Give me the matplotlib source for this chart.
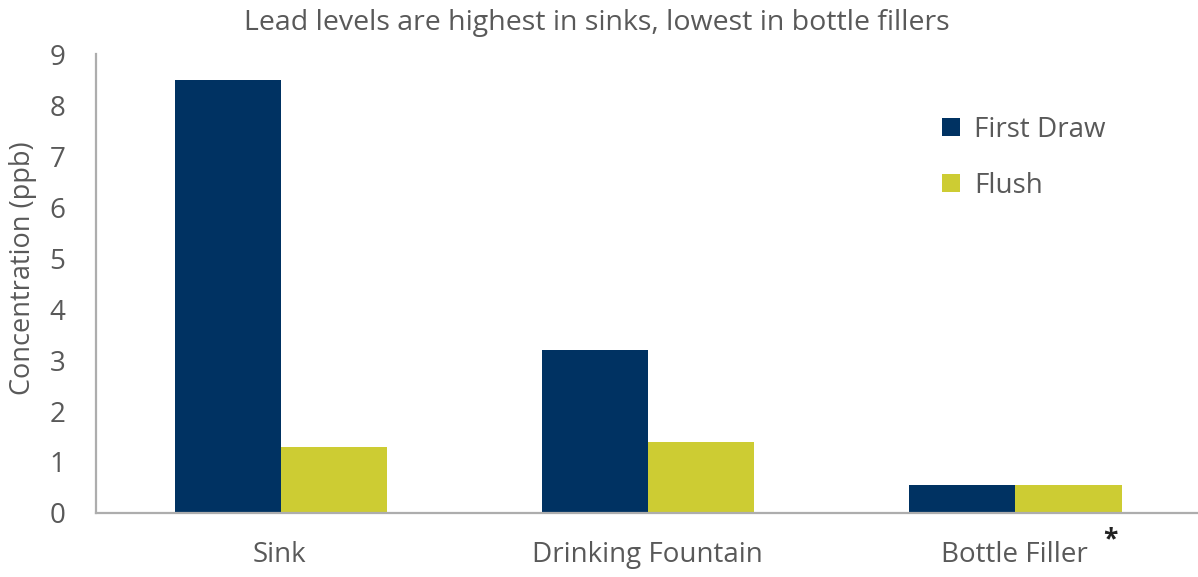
import numpy as np
import matplotlib.pyplot as plt

categories = ["Sink", "Drinking Fountain", "Bottle Filler"]
first_draw = [8.5, 3.2, 0.55]
flush = [1.3, 1.4, 0.55]

navy = "#003262"
yellow = "#CDCC33"
grey_text = "#595959"
axis_grey = "#ADADAD"

plt.rcParams["font.family"] = ["Open Sans", "DejaVu Sans"]

fig = plt.figure(figsize=(11.98, 5.77), dpi=100)
ax = fig.add_axes([0.0801, 0.111, 0.9199, 0.795])

x = np.arange(len(categories))
w = 0.289
ax.bar(x - w / 2 + 0.003, first_draw, w, color=navy, label="First Draw")
ax.bar(x + w / 2 + 0.003, flush, w, color=yellow, label="Flush")

ax.set_xlim(-0.5, 2.5)
ax.set_ylim(0, 9)
ax.set_yticks(range(0, 10))
ax.set_xticks(x)
ax.set_xticklabels(categories)
ax.tick_params(axis="both", length=0, labelsize=20, colors=grey_text)
ax.tick_params(axis="x", pad=20)
ax.tick_params(axis="y", pad=22)

# y label placed by hand so it sits close to the left edge like the original
fig.text(23 / 1198, 1 - 268 / 577, "Concentration (ppb)", rotation=90,
         ha="center", va="center", fontsize=19.5, color=grey_text)

for s in ["top", "right"]:
    ax.spines[s].set_visible(False)
for s in ["left", "bottom"]:
    ax.spines[s].set_color(axis_grey)
    ax.spines[s].set_linewidth(1.6)

fig.text(0.498, 0.96, "Lead levels are highest in sinks, lowest in bottle fillers",
         ha="center", va="center", fontsize=20.5, color=grey_text)
fig.text(0.927, 0.064, "*", ha="center", va="center", fontsize=19,
         color="#222222", fontweight="bold")

leg = ax.legend(loc="upper left", bbox_to_anchor=(0.745, 0.92), frameon=False,
                fontsize=20, handlelength=0.65, handleheight=0.65,
                labelspacing=1.0, labelcolor=grey_text, handletextpad=0.5)

fig.savefig("out.png", dpi=100)
